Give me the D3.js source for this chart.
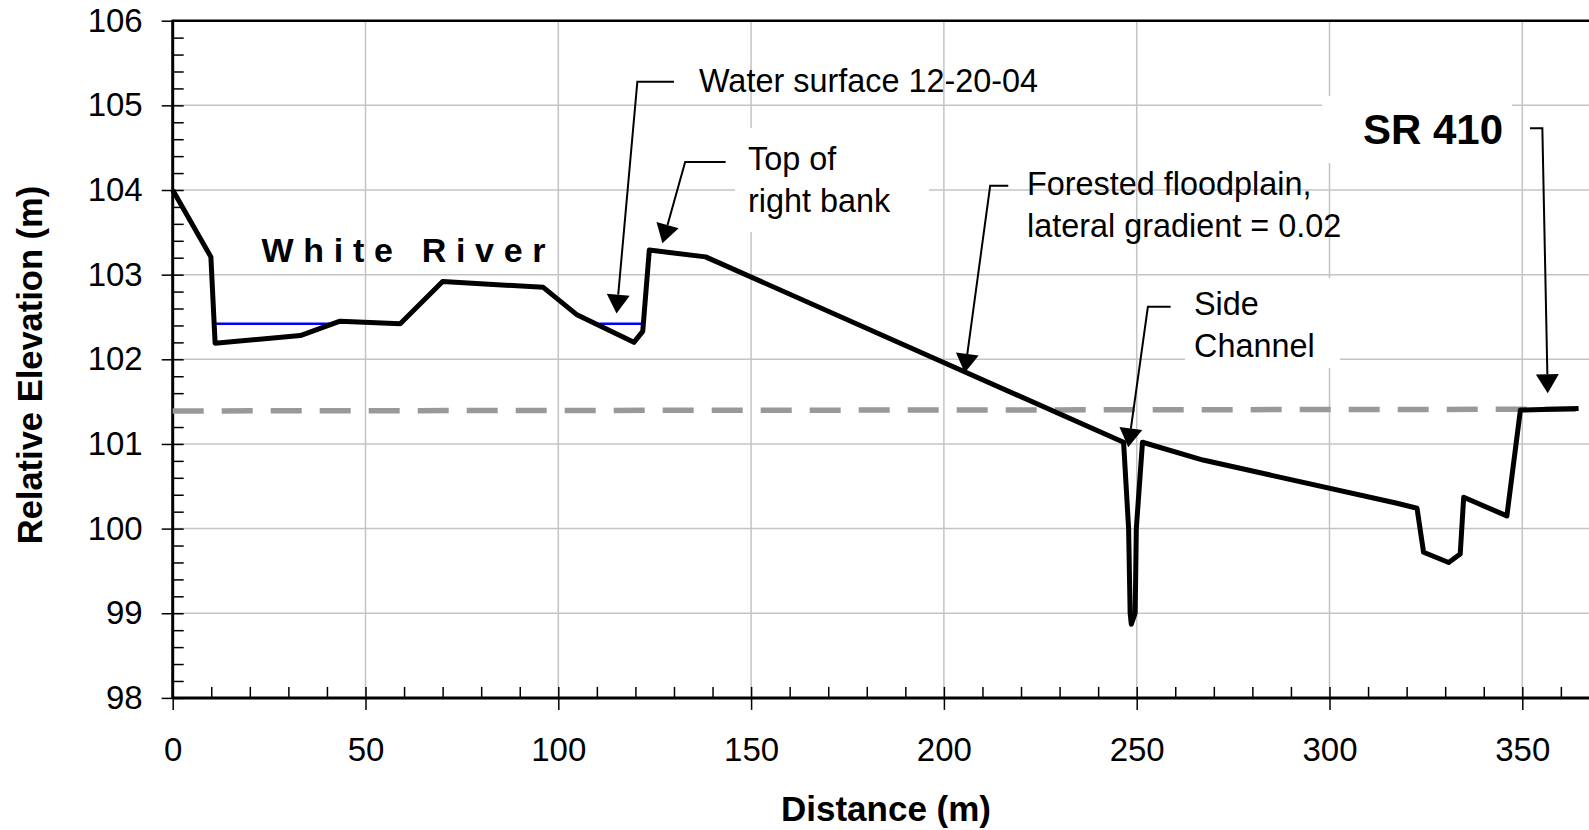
<!DOCTYPE html>
<html>
<head>
<meta charset="utf-8">
<script src="https://cdn.jsdelivr.net/npm/d3@7"></script>
<style>
  body { margin: 0; background: #fff; }
  svg { display: block; font-family: "Liberation Sans", Arial, sans-serif; }
</style>
</head>
<body>
<div id="chart"></div>
<script>
// ground profile across the valley (distance m, relative elevation m)
var profileX = [0, 9.9, 11.0, 33.1, 43.4, 59.0, 70.0, 96.1, 104.7, 119.6, 121.9, 123.6, 138.2,
                246.6, 247.9, 248.3, 248.6, 249.6, 249.9, 251.5, 267.2, 317.5, 322.7, 324.4,
                330.9, 333.9, 334.8, 346.0, 349.5, 364.6];
var profileY = [104.0, 103.21, 102.19, 102.28, 102.45, 102.42, 102.92, 102.85, 102.53, 102.20, 102.33, 103.29, 103.21,
                101.02, 100.0, 99.0, 98.87, 99.0, 100.0, 101.02, 100.81, 100.30, 100.24, 99.72,
                99.60, 99.70, 100.37, 100.15, 101.40, 101.42];

// water surface 12-20-04, two wetted reaches
var waterStart = [11.0, 110.6];
var waterEnd = [41.6, 121.9];
var waterLevel = 102.42;

// dashed reference line
var refX = [0, 365];
var refY = [101.39, 101.41];

var xMajor = [0, 50, 100, 150, 200, 250, 300, 350];
var yMajor = [98, 99, 100, 101, 102, 103, 104, 105, 106];

var annoText = [["Water surface 12-20-04"], ["Top of", "right bank"],
                ["Forested floodplain,", "lateral gradient = 0.02"], ["Side", "Channel"], ["SR 410"]];

var w = 1589, h = 830;
var plotLeft = 172.7, plotTop = 20.7, plotBottom = 697.9;

var x = d3.scaleLinear().domain([0, 350]).range([plotLeft, plotLeft + 350 * 3.856]);
var y = d3.scaleLinear().domain([98, 106]).range([plotBottom, plotTop]);
var xEnd = w + 5;

var svg = d3.select("#chart").append("svg")
    .attr("width", w).attr("height", h);

svg.append("rect").attr("width", w).attr("height", h).attr("fill", "#fff");

// grid
svg.append("g").selectAll("line").data(xMajor.slice(1)).enter().append("line")
    .attr("x1", function(d) { return x(d); }).attr("x2", function(d) { return x(d); })
    .attr("y1", plotTop).attr("y2", plotBottom)
    .style("stroke", "#c4c4c4").style("stroke-width", 1.5);
svg.append("g").selectAll("line").data(yMajor.slice(1, -1)).enter().append("line")
    .attr("x1", plotLeft).attr("x2", xEnd)
    .attr("y1", function(d) { return y(d); }).attr("y2", function(d) { return y(d); })
    .style("stroke", "#c4c4c4").style("stroke-width", 1.5);

// white text boxes that hide the grid
var boxes = [[735, 128, 194, 104], [1185, 278, 155, 90], [1322, 96, 190, 67]];
svg.append("g").selectAll("rect").data(boxes).enter().append("rect")
    .attr("x", function(d) { return d[0]; }).attr("y", function(d) { return d[1]; })
    .attr("width", function(d) { return d[2]; }).attr("height", function(d) { return d[3]; })
    .attr("fill", "#fff");

// axes
var minorX = d3.range(0, 371, 10).filter(function(d) { return d % 50 != 0; });
var minorY = d3.range(98, 106.01, 0.2).filter(function(d) { return Math.abs(d - Math.round(d)) > 0.01; });

function styleAxis(g) {
  g.select(".domain").remove();
  g.selectAll("line").style("stroke", "#000").style("stroke-width", 1.5);
  g.selectAll("text").style("font-size", "33px").style("fill", "#000");
}

svg.append("g").attr("transform", "translate(0," + plotBottom + ")")
    .call(d3.axisBottom(x).tickValues(xMajor).tickSize(12).tickPadding(28).tickFormat(d3.format("d")))
    .call(styleAxis);
svg.append("g").attr("transform", "translate(0," + plotBottom + ")")
    .call(d3.axisTop(x).tickValues(xMajor.concat(minorX)).tickSize(11).tickFormat(""))
    .call(styleAxis);

svg.append("g").attr("transform", "translate(" + plotLeft + ",0)")
    .call(d3.axisLeft(y).tickValues(yMajor).tickSize(11).tickPadding(19).tickFormat(d3.format("d")))
    .call(styleAxis);
svg.append("g").attr("transform", "translate(" + plotLeft + ",0)")
    .call(d3.axisRight(y).tickValues(yMajor.concat(minorY)).tickSize(11).tickFormat(""))
    .call(styleAxis);

svg.append("line").attr("x1", plotLeft).attr("x2", xEnd).attr("y1", plotBottom).attr("y2", plotBottom)
    .style("stroke", "#000").style("stroke-width", 3);
svg.append("line").attr("x1", plotLeft).attr("x2", xEnd).attr("y1", plotTop).attr("y2", plotTop)
    .style("stroke", "#000").style("stroke-width", 2.5);
svg.append("line").attr("x1", plotLeft).attr("x2", plotLeft).attr("y1", plotTop - 1).attr("y2", plotBottom + 1)
    .style("stroke", "#000").style("stroke-width", 3);

// dashed reference line
svg.append("line")
    .attr("x1", x(refX[0])).attr("y1", y(refY[0]))
    .attr("x2", x(refX[1])).attr("y2", y(refY[1]))
    .style("stroke", "#999").style("stroke-width", 5.5)
    .style("stroke-dasharray", "31,18");

// water surface
svg.append("g").selectAll("line").data(waterStart).enter().append("line")
    .attr("x1", function(d) { return x(d); })
    .attr("x2", function(d, i) { return x(waterEnd[i]); })
    .attr("y1", y(waterLevel)).attr("y2", y(waterLevel))
    .style("stroke", "#0000ff").style("stroke-width", 2.5);

// ground profile
var line = d3.line()
    .x(function(d) { return x(d); })
    .y(function(d, i) { return y(profileY[i]); });
svg.append("path").attr("d", line(profileX))
    .attr("fill", "none").style("stroke", "#000").style("stroke-width", 5)
    .style("stroke-linejoin", "round");

// annotations: leader start, corner, arrow tip (data units)
var annoStart = [[130.0, 105.28], [143.4, 104.33], [216.7, 104.05], [258.8, 102.62], [352.0, 104.73]];
var annoCorner = [[120.5, 105.28], [132.9, 104.33], [212.0, 104.05], [252.9, 102.62], [355.2, 104.73]];
var annoTip = [[115.1, 102.54], [127.0, 103.37], [205.4, 101.84], [247.8, 100.96], [356.6, 101.60]];
var annoPos = [[699, 92], [748, 170], [1027, 195], [1194, 315], [1363, 144]];

annoTip.forEach(function(t, i) {
  var sx = x(annoStart[i][0]), sy = y(annoStart[i][1]);
  var cx = x(annoCorner[i][0]), cy = y(annoCorner[i][1]);
  var tx = x(t[0]), ty = y(t[1]);
  var dx = tx - cx, dy = ty - cy, len = Math.sqrt(dx * dx + dy * dy);
  var ux = dx / len, uy = dy / len;
  var headL = 19, headW = 11.5;
  var bx = tx - ux * headL, by = ty - uy * headL;
  svg.append("path")
      .attr("d", "M" + sx + "," + sy + "L" + cx + "," + cy + "L" + bx + "," + by)
      .attr("fill", "none").style("stroke", "#000").style("stroke-width", 2);
  svg.append("path")
      .attr("d", "M" + tx + "," + ty + "L" + (bx - uy * headW) + "," + (by + ux * headW)
                 + "L" + (bx + uy * headW) + "," + (by - ux * headW) + "Z")
      .attr("fill", "#000");
});

annoText.forEach(function(lines, i) {
  var t = svg.append("text").attr("x", annoPos[i][0]).attr("y", annoPos[i][1])
      .style("font-size", i == 4 ? "42px" : "32.4px")
      .style("font-weight", i == 4 ? "bold" : "normal");
  lines.forEach(function(s, j) {
    t.append("tspan").attr("x", annoPos[i][0]).attr("dy", j == 0 ? 0 : 42).text(s);
  });
});

svg.append("text").attr("x", 261.5).attr("y", 261.5)
    .style("font-size", "34px").style("font-weight", "bold").style("letter-spacing", "9.7px")
    .text("White River");

// axis titles
svg.append("text").attr("x", 886).attr("y", 821).attr("text-anchor", "middle")
    .style("font-size", "35px").style("font-weight", "bold").text("Distance (m)");
svg.append("text").attr("transform", "translate(42,365) rotate(-90)").attr("text-anchor", "middle")
    .style("font-size", "34.5px").style("font-weight", "bold").text("Relative Elevation (m)");
</script>
</body>
</html>
